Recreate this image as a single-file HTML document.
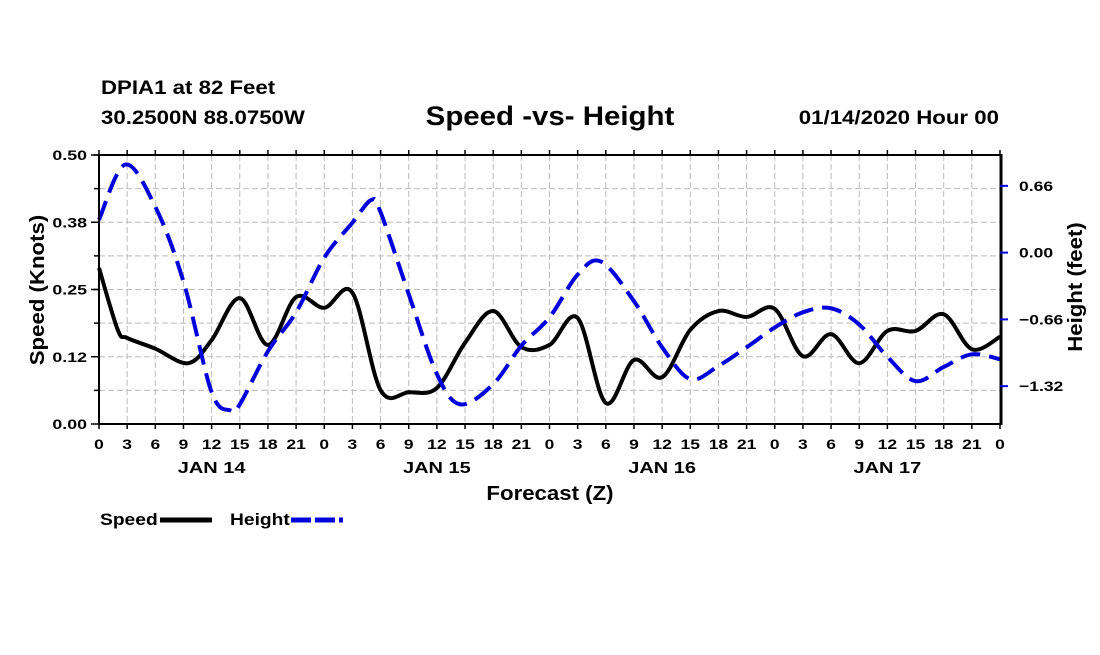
<!DOCTYPE html>
<html><head><meta charset="utf-8"><style>
body{margin:0;background:#fff;width:1100px;height:650px;overflow:hidden}
svg{font-family:"Liberation Sans",sans-serif;font-weight:bold}
</style></head><body>
<svg id="c" width="1100" height="650"></svg>
<script>
const speedHours=[0,2,3,6,9.5,12,15,18,21,24,27,30,33,36,39,42,45,48,51,54,57,60,63,66,69,72,75,78,81,84,87,90,93,96];
const speedValues=[0.290,0.175,0.160,0.140,0.113,0.156,0.234,0.147,0.236,0.216,0.244,0.063,0.059,0.067,0.151,0.210,0.143,0.147,0.197,0.039,0.119,0.087,0.175,0.210,0.199,0.214,0.126,0.167,0.113,0.173,0.173,0.204,0.139,0.162];
const heightHours=[0,2.8,6,9,12,14,15,18,21,24,27,29,30,33,36,38.5,42,45,48,51,53.5,57,60,63,66,69,72,75,78,81,84,87,90,93,96];
const heightValues=[0.325,0.87,0.453,-0.286,-1.38,-1.56,-1.50,-0.975,-0.59,-0.05,0.296,0.52,0.40,-0.41,-1.20,-1.50,-1.30,-0.92,-0.64,-0.217,-0.089,-0.48,-0.936,-1.25,-1.12,-0.936,-0.74,-0.59,-0.55,-0.71,-1.03,-1.27,-1.13,-1.005,-1.054];
const leftTicks=[0,0.125,0.25,0.375,0.5];
const leftTickLabels=["0.00","0.12","0.25","0.38","0.50"];
const rightTicks=[0.66,0,-0.66,-1.32];
const rightTickLabels=["0.66","0.00","\u22120.66","\u22121.32"];
const hourLabels=["0","3","6","9","12","15","18","21"];
const dayLabels=["JAN 14","JAN 15","JAN 16","JAN 17"];

const X0=99,X1=1000,Y0=155,Y1=424;
const HMAX=0.965,HMIN=-1.694;
const xs=h=>X0+(X1-X0)*h/96;
const ysL=v=>Y1-(Y1-Y0)*v/0.5;
const ysR=v=>Y1-(Y1-Y0)*(v-HMIN)/(HMAX-HMIN);
const svg=document.getElementById('c');
const NS='http://www.w3.org/2000/svg';
function el(t,a,txt){const e=document.createElementNS(NS,t);for(const k in a)e.setAttribute(k,a[k]);if(txt!==undefined)e.textContent=txt;svg.appendChild(e);return e;}

for(let i=1;i<32;i++){const g=el('line',{x1:xs(i*3),x2:xs(i*3),y1:Y0,y2:Y1,stroke:'#bbb','stroke-dasharray':'6,3'});

}
for(let i=1;i<8;i++){const y=ysL(i*0.0625);const g=el('line',{x1:X0,x2:X1,y1:y,y2:y,stroke:'#bbb','stroke-dasharray':'6,3'});

}

function path(hs,vs,ys){
 const p=hs.map((h,i)=>[xs(h),ys(vs[i])]);
 let d='M'+p[0][0]+','+p[0][1];
 for(let i=0;i<p.length-1;i++){const a=p[Math.max(0,i-1)],b=p[i],c=p[i+1],e=p[Math.min(p.length-1,i+2)];
  d+=` C${b[0]+(c[0]-a[0])/6},${b[1]+(c[1]-a[1])/6} ${c[0]-(e[0]-b[0])/6},${c[1]-(e[1]-b[1])/6} ${c[0]},${c[1]}`;}
 return d;}
const sp=el('path',{d:path(speedHours,speedValues,ysL),fill:'none',stroke:'#000','stroke-width':4});


const hp=el('path',{d:path(heightHours,heightValues,ysR),fill:'none',stroke:'#0000dd','stroke-width':4,'stroke-dasharray':'20,9'});



el('line',{x1:X0,x2:X1,y1:Y0,y2:Y0,stroke:'#000','stroke-width':2});
el('line',{x1:X0,x2:X1,y1:Y1,y2:Y1,stroke:'#000','stroke-width':2});
el('line',{x1:X0,x2:X0,y1:Y0,y2:Y1,stroke:'#000','stroke-width':2});
const ra=el('line',{x1:X1+1,x2:X1+1,y1:Y0-1,y2:Y1+1,stroke:'#000','stroke-width':3});


for(let i=0;i<=32;i++){const x=xs(i*3);
 el('line',{x1:x,x2:x,y1:Y1,y2:Y1+5,stroke:'#000','stroke-width':1.5});
 el('line',{x1:x,x2:x,y1:Y0,y2:Y0-5,stroke:'#000','stroke-width':1.5});
 const t=el('text',{x:x,y:449,'font-size':14,'text-anchor':'middle','data-s':1.25},i==32?'0':hourLabels[i%8]);
 
 }
dayLabels.forEach((d,i)=>{const t=el('text',{x:xs(12+24*i),y:473,'font-size':16,'text-anchor':'middle','data-s':1.25},d);
 
 });
for(let i=0;i<8;i++){el('line',{x1:X0-5,x2:X0,y1:ysL(i*0.0625+0.0625),y2:ysL(i*0.0625+0.0625),stroke:'#000','stroke-width':1.5});}
leftTicks.forEach((v,i)=>{el('line',{x1:X0-8,x2:X0,y1:ysL(v),y2:ysL(v),stroke:'#000','stroke-width':1.5});
 const t=el('text',{x:X0-12,y:ysL(v)+5,'font-size':14,'text-anchor':'end','data-s':1.27},leftTickLabels[i]);
 
 });
rightTicks.forEach((v,i)=>{el('line',{x1:X1,x2:X1+8,y1:ysR(v),y2:ysR(v),stroke:'#0000dd','stroke-width':2});
 const t=el('text',{x:X1+19,y:ysR(v)+5,'font-size':14,'data-s':1.25},rightTickLabels[i]);
 
 });
</script>
<svg id="lab" style="position:absolute;left:0;top:0" width="1100" height="650">
<text x="101" y="94" font-size="19" data-s="1.17">DPIA1 at 82 Feet</text>
<text x="101" y="124" font-size="19" data-s="1.17">30.2500N 88.0750W</text>
<text x="550" y="125" font-size="27" text-anchor="middle" data-s="1.09">Speed -vs- Height</text>
<text x="999" y="124" font-size="19" text-anchor="end" data-s="1.17">01/14/2020 Hour 00</text>
<text x="550" y="500" font-size="20" text-anchor="middle" data-s="1.11">Forecast (Z)</text>
<text transform="translate(44,290) rotate(-90)" font-size="20" text-anchor="middle" data-s="1.11">Speed (Knots)</text>
<text transform="translate(1082,287) rotate(-90)" font-size="20" text-anchor="middle" data-s="1.11">Height (feet)</text>
<g><text x="100" y="525" font-size="17" data-s="1.13">Speed</text><line x1="160" x2="212" y1="520" y2="520" stroke="#000" stroke-width="5"/></g>
<g><text x="230" y="525" font-size="17" data-s="1.13">Height</text><line x1="291" x2="343" y1="520" y2="520" stroke="#0000dd" stroke-width="5" stroke-dasharray="20,4"/></g>
</svg>
<script>
document.querySelectorAll('text[data-s]').forEach(t=>{const w=t.getComputedTextLength();
 t.setAttribute('textLength',(w*parseFloat(t.getAttribute('data-s'))).toFixed(1));
 t.setAttribute('lengthAdjust','spacingAndGlyphs');});
</script>
</body></html>
